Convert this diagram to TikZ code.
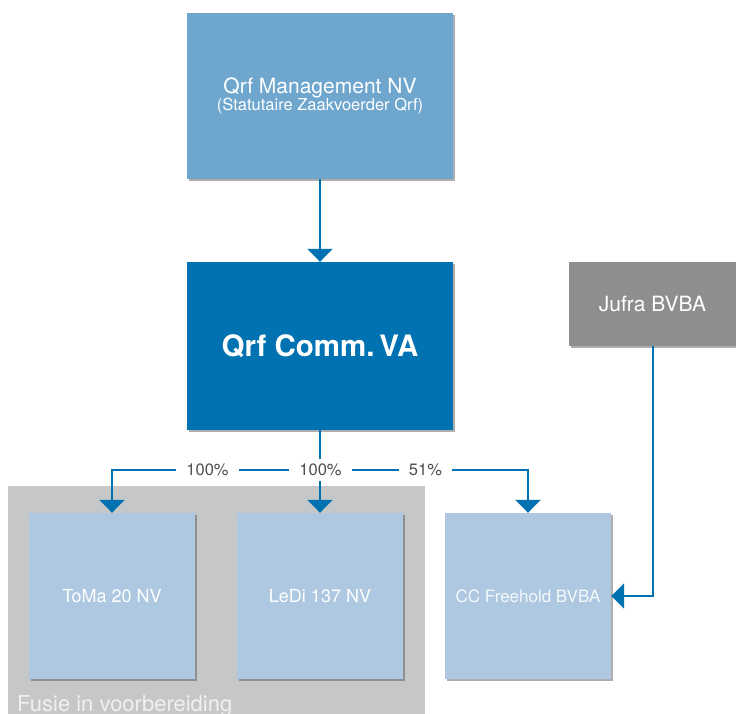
\documentclass[tikz,border=0pt]{standalone}
\usepackage{fontspec}
\setmainfont{TeX Gyre Heros}
\usetikzlibrary{arrows.meta,shadows}
\definecolor{qblue}{HTML}{0072B1}
\definecolor{qmid}{HTML}{6EA6CE}
\definecolor{qlight}{HTML}{ADC8E0}
\definecolor{qgray}{HTML}{8D8E90}
\definecolor{qbg}{HTML}{C6C7C8}
\definecolor{qtext}{HTML}{505050}
\begin{document}
\begin{tikzpicture}[x=1pt,y=-1pt,
  box/.style={inner sep=0pt, align=center, text=white,
    drop shadow={shadow xshift=1.6pt, shadow yshift=-1.6pt, opacity=.45, fill=black!70}},
  conn/.style={draw=qblue, line width=2pt, -{Triangle[width=25pt,length=13pt]}},
  plain/.style={draw=qblue, line width=2pt},
  pct/.style={fill=white, text=qtext, inner xsep=10pt, inner ysep=5pt, font=\fontsize{16.5}{18}\selectfont}]
\useasboundingbox (0,0) rectangle (736,713);
\clip (0,0) rectangle (736,713);
% background group
\fill[qbg] (8,486) rectangle (425,730);
\node[anchor=base west, text=white!94!black, inner sep=0pt, font=\fontsize{22}{24}\selectfont] (fusie) at (17,711.5) {Fusie in voorbereiding};
% boxes
\node[box, fill=qmid, minimum width=266pt, minimum height=166pt] (mgmt) at (320,96)
  {{\fontsize{21}{24}\selectfont Qrf Management NV}\\[-1pt]{\fontsize{16.5}{19}\selectfont (Statutaire Zaakvoerder Qrf)}};
\node[box, fill=qblue, minimum width=266pt, minimum height=168pt, font=\fontsize{29.5}{32}\selectfont\bfseries] (comm) at (320,346) {Qrf Comm.\,VA};
\node[box, fill=qgray, minimum width=167pt, minimum height=84pt, font=\fontsize{21}{23}\selectfont] (jufra) at (652.5,304) {Jufra BVBA};
\node[box, fill=qlight, minimum width=166pt, minimum height=166pt, font=\fontsize{18}{20}\selectfont] (toma) at (112,596) {ToMa 20 NV};
\node[box, fill=qlight, minimum width=166pt, minimum height=166pt, font=\fontsize{18}{20}\selectfont] (ledi) at (320,596) {LeDi 137 NV};
\node[box, fill=qlight, minimum width=166pt, minimum height=166pt, text=white!88!qlight, font=\fontsize{17}{19}\selectfont] (cc) at (528,596) {CC Freehold BVBA};
% connectors
\coordinate (j) at (320,470);
\draw[conn] (mgmt.south) -- (comm.north);
\draw[plain] (comm.south) -- (j);
\draw[conn] (j) -| (toma.north);
\draw[conn] (j) -- (ledi.north);
\draw[conn] (j) -| (cc.north);
\draw[conn] (jufra.south) |- (cc.east);
% labels
\node[pct] (p1) at (207.5,470) {100\%};
\node[pct] (p2) at (320.5,470) {100\%};
\node[pct] (p3) at (425.5,470) {51\%};
\end{tikzpicture}
\end{document}
